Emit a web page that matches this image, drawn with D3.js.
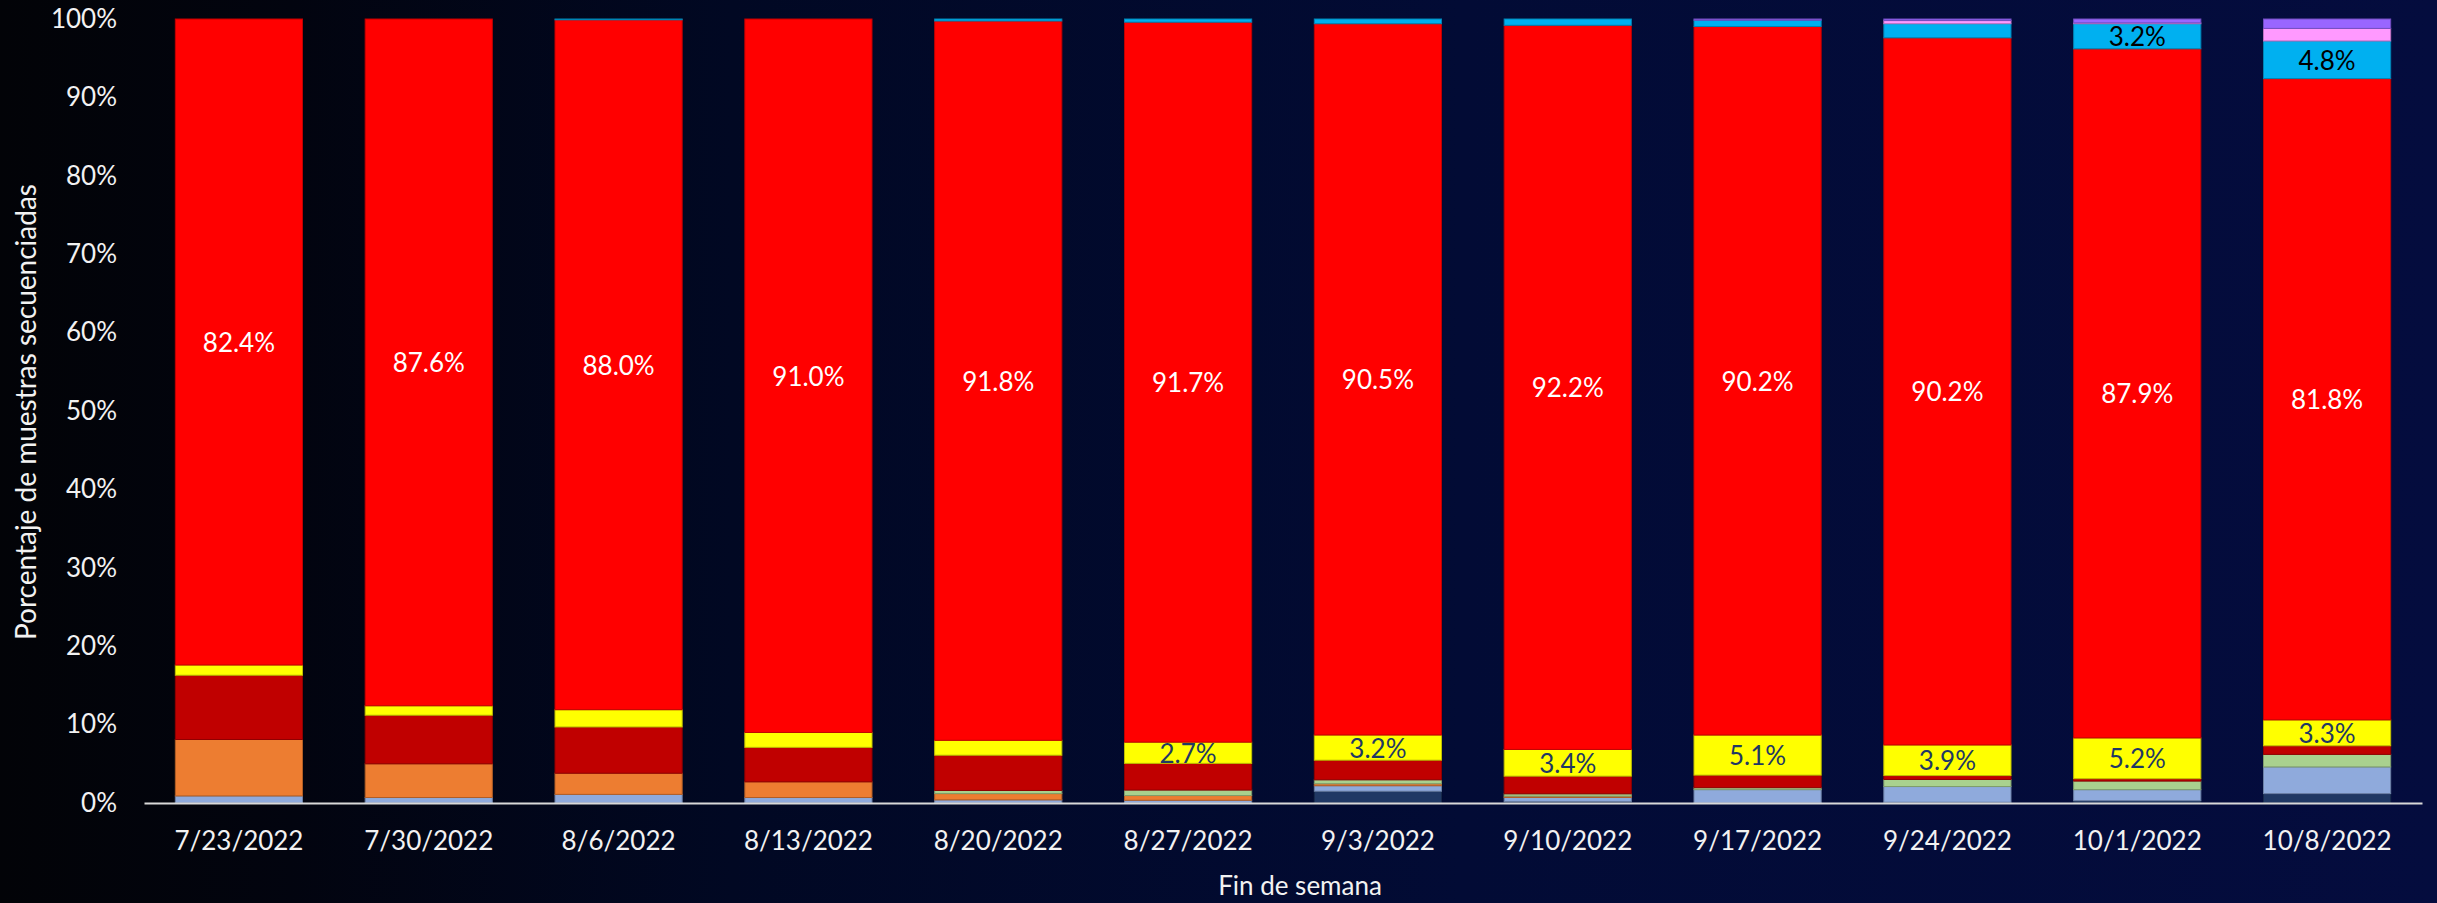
<!DOCTYPE html>
<html>
<head>
<meta charset="utf-8">
<script src="https://cdn.jsdelivr.net/npm/d3@7"></script>
<style>
	html, body { margin: 0; padding: 0; background: #020308; }
	svg { display: block; }
	text { font-family: Lato, "Open Sans", sans-serif; }
</style>
</head>
<body>
<div id="chart"></div>
<script>

// semanas (fin de semana)
const weeks = ["7/23/2022","7/30/2022","8/6/2022","8/13/2022","8/20/2022","8/27/2022",
	"9/3/2022","9/10/2022","9/17/2022","9/24/2022","10/1/2022","10/8/2022"];

// porcentajes por serie, de abajo hacia arriba
const sNavy   = [0, 0, 0, 0, 0, 0, 1.5, 0.2, 0, 0.1, 0.3, 1.2];
const sLBlue  = [0.9, 0.7, 1.1, 0.7, 0.4, 0.35, 0.7, 0.5, 1.7, 2.0, 1.4, 3.4];
const sOrange = [7.2, 4.3, 2.7, 2.0, 0.8, 0.6, 0.25, 0.17, 0, 0, 0, 0];
const sGreen  = [0, 0, 0, 0, 0.4, 0.7, 0.5, 0.3, 0.25, 0.9, 1.1, 1.6];
const sDkRed  = [8.2, 6.2, 5.9, 4.4, 4.5, 3.4, 2.5, 2.25, 1.6, 0.5, 0.3, 1.1];
const sYellow = [1.3, 1.2, 2.2, 1.9, 1.9, 2.7, 3.2, 3.4, 5.1, 3.9, 5.2, 3.3];
const sRed    = [82.4, 87.6, 88.0, 91.0, 91.8, 91.7, 90.5, 92.2, 90.2, 90.2, 87.9, 81.8];
const sCyan   = [0, 0, 0.1, 0, 0.25, 0.4, 0.6, 0.8, 0.8, 1.8, 3.2, 4.8];
const sPink   = [0, 0, 0, 0, 0, 0, 0, 0, 0, 0.4, 0.1, 1.6];
const sPurple = [0, 0, 0, 0, 0, 0, 0, 0, 0.15, 0.2, 0.5, 1.2];

const seriesKeys = ["navy","lblue","orange","green","dkred","yellow","red","cyan","pink","purple"];
const seriesVals = [sNavy, sLBlue, sOrange, sGreen, sDkRed, sYellow, sRed, sCyan, sPink, sPurple];
const colors = ["#203864","#8faadc","#ed7d31","#a9d18e","#c00000","#ffff00","#ff0000","#00b0f0","#ff99ff","#9966ff"];
const labelled = {red: "#ffffff", yellow: "#1f3864", cyan: "#000000"};

const yTicks = [0,0.1,0.2,0.3,0.4,0.5,0.6,0.7,0.8,0.9,1];

let width = 2437, height = 903;

let rows = weeks.map((w,i) => {
	let r = {week: w};
	seriesKeys.forEach((k,j) => r[k] = seriesVals[j][i]);
	return r;
});

let svg = d3.select("#chart").append("svg")
	.attr("width", width)
	.attr("height", height);

let grad = svg.append("defs").append("linearGradient")
	.attr("id","bg").attr("x1","0").attr("x2","1").attr("y1","0").attr("y2","0");
grad.append("stop").attr("offset","0").attr("stop-color","#020307");
grad.append("stop").attr("offset","0.12").attr("stop-color","#02040f");
grad.append("stop").attr("offset","0.3").attr("stop-color","#010823");
grad.append("stop").attr("offset","0.6").attr("stop-color","#020b35");
grad.append("stop").attr("offset","1").attr("stop-color","#040c3e");

svg.append("rect").attr("width", width).attr("height", height).attr("fill","url(#bg)");

let x = d3.scaleBand()
	.domain(weeks)
	.range([144, 2422])
	.paddingInner(0.33)
	.paddingOuter(0.165);

let y = d3.scaleLinear()
	.domain([0,1])
	.range([803, 19]);

let stack = d3.stack()
	.keys(seriesKeys)
	.offset(d3.stackOffsetExpand);

let layers = stack(rows);

let g = svg.append("g");

g.selectAll("g.layer")
	.data(layers)
	.join("g")
		.attr("class","layer")
		.attr("fill", (d,i) => colors[i])
		.attr("stroke", (d,i) => d3.color(colors[i]).darker(0.8))
		.attr("stroke-width", 1)
	.selectAll("rect")
	.data(d => d.filter(p => p[1] - p[0] > 0))
	.join("rect")
		.attr("x", d => x(d.data.week))
		.attr("width", x.bandwidth())
		.attr("y", d => y(d[1]))
		.attr("height", d => y(d[0]) - y(d[1]));

// etiquetas de valores
layers.forEach(layer => {
	let col = labelled[layer.key];
	if (!col) return;
	g.append("g").selectAll("text")
		.data(layer.filter(p => p.data[layer.key] >= 2.5))
		.join("text")
			.attr("x", d => x(d.data.week) + x.bandwidth()/2)
			.attr("y", d => y((d[0]+d[1])/2))
			.attr("text-anchor","middle")
			.attr("dominant-baseline","central")
			.attr("font-size", 26)
			.attr("fill", col)
			.text(d => d.data[layer.key].toFixed(1) + "%");
});

let xAxis = svg.append("g")
	.attr("transform","translate(0,803)")
	.call(d3.axisBottom(x).tickSize(0).tickSizeOuter(0).tickPadding(29));
xAxis.select(".domain").attr("stroke","#d9d9d9").attr("stroke-width",2);
xAxis.selectAll("text").attr("font-size",26).attr("fill","#f2f2f2").style("font-family","Lato, sans-serif");

let yAxis = svg.append("g")
	.attr("transform","translate(144,0)")
	.call(d3.axisLeft(y).tickValues(yTicks).tickSize(0).tickPadding(27).tickFormat(d3.format(".0%")));
yAxis.select(".domain").remove();
yAxis.selectAll("text").attr("font-size",26).attr("fill","#f2f2f2").style("font-family","Lato, sans-serif");

svg.append("text")
	.attr("x", 1300)
	.attr("y", 895)
	.attr("text-anchor","middle")
	.attr("font-size",26)
	.attr("fill","#f2f2f2")
	.text("Fin de semana");

svg.append("text")
	.attr("transform","translate(36,412) rotate(-90)")
	.attr("text-anchor","middle")
	.attr("font-size",28)
	.attr("fill","#f2f2f2")
	.text("Porcentaje de muestras secuenciadas");

</script>
</body>
</html>
